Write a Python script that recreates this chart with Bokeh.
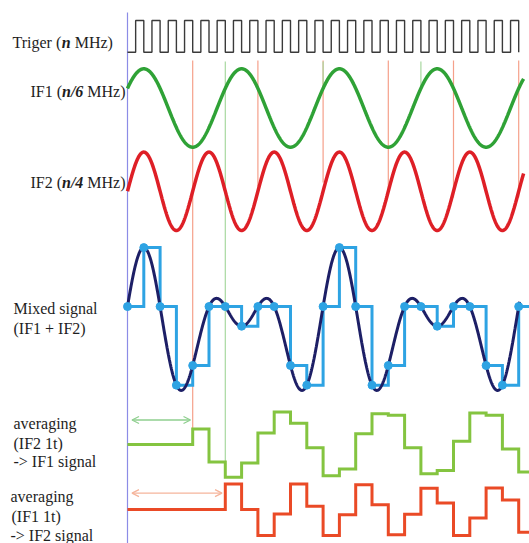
import numpy as np
from bokeh.plotting import figure
from bokeh.models import Range1d, Arrow, OpenHead
from bokeh.core.properties import value
from bokeh.embed import file_html
from bokeh.resources import INLINE

# ---------------- data (time in trigger periods) ----------------
n_triggers = 24            # trigger pulses shown
if1_period = 6             # IF1 = n/6 MHz -> 6 trigger periods
if2_period = 4             # IF2 = n/4 MHz -> 4 trigger periods
if1_phase = 0.5            # IF1 phase offset (trigger periods)
if2_phase = 0.0

# averaging over one IF2 period (4 samples) -> IF1 signal
avg_if1_times = [0, 4, 5, 6, 7, 8, 9, 10, 11, 12, 13, 14, 15, 16, 17, 18, 19, 20, 21, 22, 23, 24]
avg_if1_levels = [0, 0.39, -0.44, -0.82, -0.46, 0.29, 0.81, 0.53, -0.08, -0.78, -0.61,
                  0.27, 0.77, 0.73, -0.08, -0.73, -0.65, 0.08, 0.79, 0.73, -0.11, -0.69]

# averaging over one IF1 period (6 samples) -> IF2 signal
avg_if2_times = [0, 6, 7, 8, 9, 10, 11, 12, 13, 14, 15, 16, 17, 18, 19, 20, 21, 22, 23, 24]
avg_if2_levels = [0, 0.64, 0, -0.65, -0.11, 0.64, 0.08, -0.65, -0.13, 0.62, 0.12,
                  -0.63, -0.12, 0.53, 0.16, -0.65, -0.21, 0.54, 0.24, -0.57]

red_marker_times = [4, 8, 12, 16, 20, 24]
green_marker_times = [6, 12, 18]

# ---------------- layout helpers ----------------
X0, UNIT = 127.0, 16.3          # picture x of t=0, px per trigger period
W, H = 529, 543
def tx(px):
    return (px - X0) / UNIT

FONT = value("Liberation Serif")

p = figure(width=W, height=H, output_backend="svg", toolbar_location=None,
           x_range=Range1d(tx(0), tx(W)), y_range=Range1d(H, 0),
           x_axis_location=None, y_axis_location=None, min_border=0,
           background_fill_color="white", border_fill_color="white")
p.outline_line_color = None
p.grid.visible = False

# thin marker lines
p.segment(x0=red_marker_times, x1=red_marker_times, y0=[60] * 6,
          y1=[428, 186, 182, 190, 197, 197], line_color="#f5a08a", line_width=1.2)
p.segment(x0=green_marker_times, x1=green_marker_times, y0=[61] * 3,
          y1=[477, 90, 90], line_color="#a8d8a0", line_width=1.2)
# t = 0 reference line
p.segment(x0=[0], x1=[0], y0=[12], y1=[543], line_color="#8c8ce6", line_width=1.2)

# trigger square wave
trig_x, trig_y = [0.0], [51.7]
for k in range(n_triggers):
    trig_x += [k + 0.5, k + 0.5, k + 1, k + 1]
    trig_y += [51.7, 20.0, 20.0, 51.7]
p.line(trig_x, trig_y, line_color="#3a3a3a", line_width=1.4)

# sine curves
tc = np.linspace(0, 24.3, 1500)
if1 = np.sin(2 * np.pi * (tc + if1_phase) / if1_period)
if2 = np.sin(2 * np.pi * (tc + if2_phase) / if2_period)
p.line(tc, 107.5 - 39.2 * if1, line_color="#2fa236", line_width=3.5)
p.line(tc, 190.8 - 39.2 * if2, line_color="#de1f26", line_width=3.5)

# mixed signal and its samples
tm = np.linspace(0, 24.05, 1500)
mixed = (np.sin(2 * np.pi * (tm + if1_phase) / if1_period)
         + np.sin(2 * np.pi * (tm + if2_phase) / if2_period))
ts = np.arange(0, n_triggers + 1)
samples = (np.sin(2 * np.pi * (ts + if1_phase) / if1_period)
           + np.sin(2 * np.pi * (ts + if2_phase) / if2_period))
MZ, MS = 325.7, 39.3
step_x = list(ts) + [tx(540)]
step_y = list(MZ - MS * samples) + [MZ - MS * samples[-1]]
p.step(step_x, step_y, mode="after", line_color="#2ea3e3", line_width=3, line_join="miter")
p.line(tm, MZ - MS * mixed, line_color="#1d1f66", line_width=3)
p.scatter(ts, MZ - MS * samples, size=8, fill_color="#2ea3e3", line_color="#2ea3e3")

# averaged outputs
gx = avg_if1_times + [tx(540)]
gy = [444 - 40 * v for v in avg_if1_levels] + [444 - 40 * avg_if1_levels[-1]]
p.step(gx, gy, mode="after", line_color="#84c440", line_width=3, line_join="miter")
rx = avg_if2_times + [tx(540)]
ry = [509 - 40 * v for v in avg_if2_levels] + [509 - 40 * avg_if2_levels[-1]]
p.step(rx, ry, mode="after", line_color="#ea4a26", line_width=3, line_join="miter")

# window arrows
p.add_layout(Arrow(x_start=tx(131.5), x_end=tx(190), y_start=419.5, y_end=419.5,
                   start=OpenHead(size=7, line_color="#8fcf8f", line_width=1.3),
                   end=OpenHead(size=7, line_color="#8fcf8f", line_width=1.3),
                   line_color="#8fcf8f", line_width=1.3))
p.add_layout(Arrow(x_start=tx(131.5), x_end=tx(221.5), y_start=492.7, y_end=492.7,
                   start=OpenHead(size=7, line_color="#f5b49b", line_width=1.3),
                   end=OpenHead(size=7, line_color="#f5b49b", line_width=1.3),
                   line_color="#f5b49b", line_width=1.3))

# labels
def label(px, py, txt, style="normal"):
    p.text(x=[tx(px)], y=[py], text=[txt], text_font=FONT, text_font_size="16px",
           text_font_style=style, text_baseline="middle", text_align="left",
           text_color="#1e1e1e")

label(12, 42, "Triger (")
label(61.3, 42, "n", "bold italic")
label(74.2, 42, "MHz)")
label(29.9, 91, "IF1 (")
label(61.5, 91, "n/6", "bold italic")
label(86.8, 91, "MHz)")
label(29.9, 182, "IF2 (")
label(61.5, 182, "n/4", "bold italic")
label(86.8, 182, "MHz)")
label(13, 308, "Mixed signal")
label(13, 328, "(IF1 + IF2)")
label(13, 423, "averaging")
label(13, 443, "(IF2 1t)")
label(13, 461, "-> IF1 signal")
label(10, 496, "averaging")
label(11, 516, "(IF1 1t)")
label(10, 535, "-> IF2 signal")

open("out.html", "w").write(file_html(p, INLINE))
